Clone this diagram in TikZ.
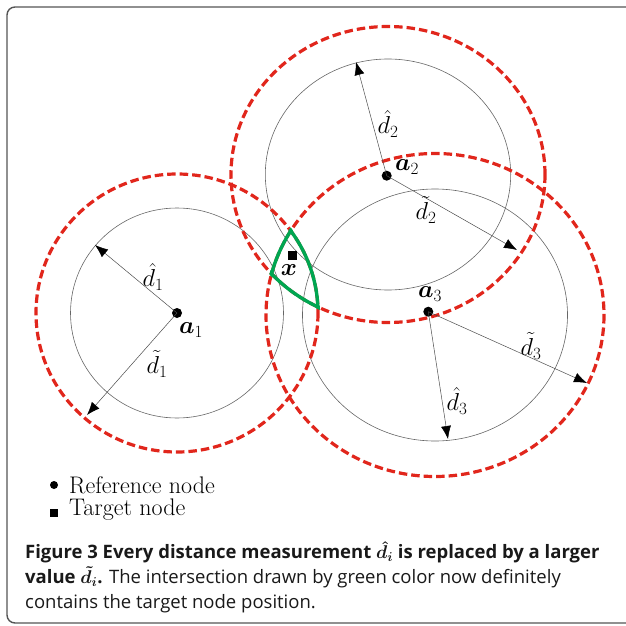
\RequirePackage{fix-cm}
\documentclass[tikz,border=0pt]{standalone}
\usepackage{amsmath,amssymb}
\usepackage{fontspec}
\newfontfamily\capfont{Open Sans}
\usetikzlibrary{arrows.meta,positioning}
\definecolor{rangered}{HTML}{E1261C}
\definecolor{regiongreen}{HTML}{00A651}
\definecolor{framegray}{HTML}{555555}

\begin{document}
\begin{tikzpicture}[x=1pt,y=-1pt,
  measure/.style={draw=black!60,line width=0.6pt},
  bound/.style={draw=rangered,line width=3.2pt,dash pattern=on 8.5pt off 4pt},
  region/.style={draw=regiongreen,line width=3.4pt,line join=round},
  ray/.style={-{Latex[length=13pt,width=10pt,black]},draw=black!70,line width=0.5pt},
  refdot/.style={circle,fill=black,inner sep=0pt,minimum size=10pt},
  tgtsq/.style={rectangle,fill=black,inner sep=0pt,minimum size=8.5pt},
  lbl/.style={inner sep=0pt,font=\fontsize{24.5}{28}\selectfont},
  legtxt/.style={inner sep=0pt,anchor=west,font=\fontsize{24}{28}\selectfont}]
\useasboundingbox (0,0) rectangle (626,626);

% frame
\draw[framegray,line width=1.4pt,rounded corners=8pt] (650,7) -- (7,7) -- (7,623) -- (650,623);

% centres
\coordinate (c1) at (177,313);
\coordinate (c2) at (388,174.5);
\coordinate (c3) at (435,315);

% measured ranges
\draw[measure] (c1) ellipse [x radius=106.5,y radius=105];
\draw[measure] (c2) ellipse [x radius=122.7,y radius=115.5];
\draw[measure] (c3) ellipse [x radius=132.5,y radius=126];

% enlarged ranges
\draw[bound] (c1) ellipse [x radius=141,y radius=139];
\draw[bound] (c2) ellipse [x radius=157,y radius=148];
\draw[bound] (c3) ellipse [x radius=169,y radius=161.5];

% intersection
\begin{scope}
  \clip (c2) ellipse [x radius=159,y radius=150];
  \clip (c3) ellipse [x radius=171,y radius=163.5];
  \draw[region] (c1) ellipse [x radius=141,y radius=139];
\end{scope}
\begin{scope}
  \clip (c1) ellipse [x radius=143,y radius=141];
  \clip (c3) ellipse [x radius=171,y radius=163.5];
  \draw[region] (c2) ellipse [x radius=157,y radius=148];
\end{scope}
\begin{scope}
  \clip (c1) ellipse [x radius=143,y radius=141];
  \clip (c2) ellipse [x radius=159,y radius=150];
  \draw[region] (c3) ellipse [x radius=169,y radius=161.5];
\end{scope}

% nodes
\node[refdot] (a1) at (177,313) {};
\node[refdot] (a2) at (386.7,175.7) {};
\node[refdot] (a3) at (428.3,311.7) {};
\node[tgtsq]  (x)  at (292.7,255.7) {};

% arrow tips
\coordinate (h1) at (95,245);
\coordinate (t1) at (87,415);
\coordinate (h2) at (356,62);
\coordinate (t2) at (517,250);
\coordinate (h3) at (448,439);
\coordinate (t3) at (587,383);

\draw[ray] (a1.center) -- (h1);
\draw[ray] (a1.center) -- (t1);
\draw[ray] (a2.center) -- (h2);
\draw[ray] (a2.center) -- (t2);
\draw[ray] (a3.center) -- (h3);
\draw[ray] (a3.center) -- (t3);

% labels
\node[lbl] (la1) at (191,330) {$\boldsymbol{a}_1$};
\node[lbl] (lh1) at (153,277) {$\hat{d}_1$};
\node[lbl] (lt1) at (157,364) {$\tilde{d}_1$};
\node[lbl] (la2) at (407,167) {$\boldsymbol{a}_2$};
\node[lbl] (lh2) at (388,124) {$\hat{d}_2$};
\node[lbl] (lt2) at (426,210) {$\tilde{d}_2$};
\node[lbl] (la3) at (430,294) {$\boldsymbol{a}_3$};
\node[lbl] (lh3) at (457,401) {$\hat{d}_3$};
\node[lbl] (lt3) at (531,346) {$\tilde{d}_3$};
\node[lbl] (lx)  at (289,270) {$\boldsymbol{x}$};

% legend
\node[refdot,minimum size=8pt] (legref) at (54,485) {};
\node[legtxt] (legreftxt) at (69,485) {Reference node};
\node[tgtsq,minimum size=7.5pt] (legtgt) at (54,513) {};
\node[legtxt] (legtgttxt) at (69,510) {Target node};

% caption
\node[anchor=north west,inner sep=0pt,align=left,text=black!90,
  font=\capfont\fontsize{18.5}{25}\selectfont] (cap) at (25,541)
  {\textbf{Figure 3 Every distance measurement $\boldsymbol{\hat{d}_i}$ is replaced by a larger}\\
   \textbf{value $\boldsymbol{\tilde{d}_i}$.} The intersection drawn by green color now definitely\\
   contains the target node position.};
\end{tikzpicture}
\end{document}
